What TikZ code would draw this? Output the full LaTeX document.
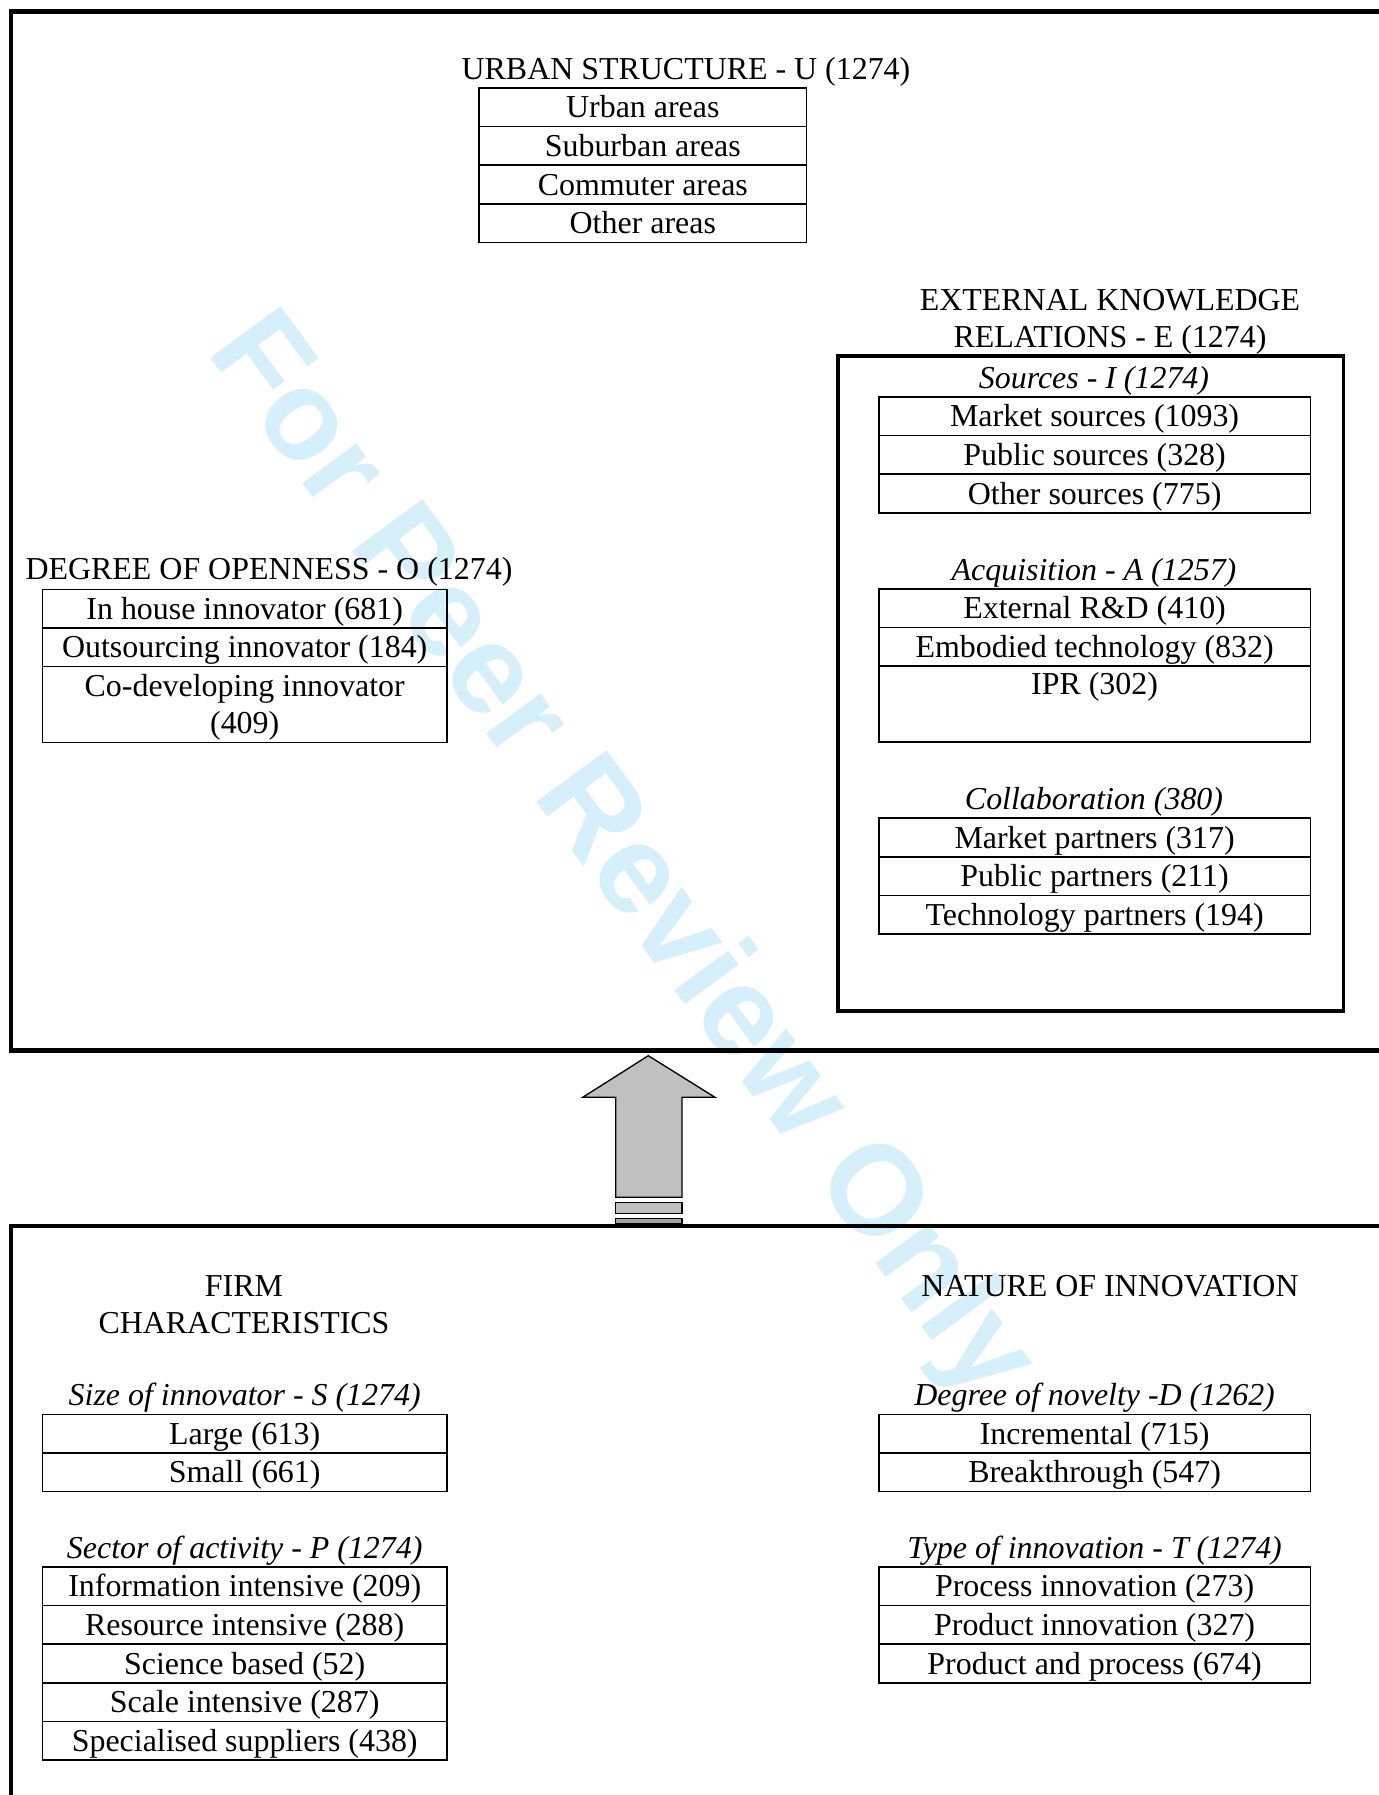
\documentclass[12pt,tikz,border=0pt]{standalone}
\usepackage{fontspec}
\setmainfont{Liberation Serif}
\newfontfamily\markfont{Liberation Sans}
\usetikzlibrary{positioning}
\definecolor{markblue}{RGB}{214,240,251}
\definecolor{arrowgray}{RGB}{192,192,192}
\newcommand*{\txt}{\fontsize{12}{13.8}\selectfont}
\newcommand{\low}[1]{\raisebox{-1.1pt}[\height][\depth]{#1}}
\newcommand*{\rowh}{14.5pt}
\newcommand*{\tallh}{28.6pt}
\tikzset{
        cell/.style={draw, line width=0.6pt, inner sep=0pt, outer sep=0pt, minimum height=\rowh,
                align=center, font=\txt, text height=9.5pt, text depth=1.5pt},
        tall/.style={minimum height=\tallh, text height={}, text depth={}},
        cellU/.style={cell, minimum width=123.1pt},
        cellL/.style={cell, minimum width=151.9pt},
        cellR/.style={cell, minimum width=162.3pt},
        heading/.style={align=center, inner sep=0pt, font=\txt},
        sub/.style={heading, font=\txt\itshape},
        outerbox/.style={line width=1.6pt},
        ebox/.style={line width=1.35pt},
        arrowpart/.style={draw, line width=0.5pt, fill=arrowgray, line join=miter},
}

\begin{document}
\begin{tikzpicture}[x=0.3759pt, y=-0.3759pt]
        \useasboundingbox (0,0) rectangle (1378,1795);
        \node[rotate=-53.7, text=markblue, font=\markfont\bfseries\fontsize{47.8}{47.8}\selectfont] (WM) at (619,858.5) {For Peer Review Only};

        \draw[outerbox] (11,11.5) rectangle (1400,1050.5);
        \draw[outerbox] (11,1226) rectangle (1400,1820);
        \draw[ebox] (838,356) rectangle (1343.5,1011);

        % upward arrow between the two panels
        \draw[arrowpart] (648.3,1055.7) -- (715,1097.3) -- (682,1097.3) -- (682,1197.3)
                -- (615.7,1197.3) -- (615.7,1097.3) -- (582.7,1097.3) -- cycle;
        \draw[arrowpart] (615.7,1202.7) rectangle (682,1213.3);
        \draw[arrowpart, fill=gray!70] (615.7,1218.7) rectangle (682,1224);

        \node[heading] (UT) at (686,72) {URBAN STRUCTURE - U (1274)};
        \node[cellU, anchor=north] (U1) at (642.8,88) {Urban areas};
        \node[cellU, below=0pt of U1] (U2) {Suburban areas};
        \node[cellU, below=0pt of U2] (U3) {Commuter areas};
        \node[cellU, below=0pt of U3] (U4) {Other areas};

        \node[heading] (ET) at (1110,322) {EXTERNAL KNOWLEDGE\\RELATIONS - E (1274)};
        \node[sub] (IT) at (1094,381) {Sources - I (1274)};
        \node[cellR, anchor=north] (I1) at (1094.6,397) {Market sources (1093)};
        \node[cellR, below=0pt of I1] (I2) {Public sources (328)};
        \node[cellR, below=0pt of I2] (I3) {Other sources (775)};

        \node[sub] (AT) at (1094,573) {Acquisition - A (1257)};
        \node[cellR, anchor=north] (A1) at (1094.6,589) {External R\&D (410)};
        \node[cellR, below=0pt of A1] (A2) {Embodied technology (832)};
        \node[cellR, tall, below=0pt of A2] (A3) {\low{IPR (302)}\\\strut};

        \node[sub] (CT) at (1094,802) {Collaboration (380)};
        \node[cellR, anchor=north] (C1) at (1094.6,818.2) {Market partners (317)};
        \node[cellR, below=0pt of C1] (C2) {Public partners (211)};
        \node[cellR, below=0pt of C2] (C3) {Technology partners (194)};

        \node[heading] (OT) at (269,572) {DEGREE OF OPENNESS - O (1274)};
        \node[cellL, anchor=north] (O1) at (244.7,589.3) {In house innovator (681)};
        \node[cellL, below=0pt of O1] (O2) {Outsourcing innovator (184)};
        \node[cellL, tall, below=0pt of O2] (O3) {\low{Co-developing innovator}\\\low{(409)}};

        \node[heading] (FT) at (244,1305) {FIRM\\CHARACTERISTICS};
        \node[heading] (NT) at (1110,1286) {NATURE OF INNOVATION};

        \node[sub] (ST) at (244.7,1397.5) {Size of innovator - S (1274)};
        \node[cellL, anchor=north] (S1) at (244.7,1414.3) {Large (613)};
        \node[cellL, below=0pt of S1] (S2) {Small (661)};

        \node[sub] (PT) at (244.7,1550.5) {Sector of activity - P (1274)};
        \node[cellL, anchor=north] (P1) at (244.7,1567) {Information intensive (209)};
        \node[cellL, below=0pt of P1] (P2) {Resource intensive (288)};
        \node[cellL, below=0pt of P2] (P3) {Science based (52)};
        \node[cellL, below=0pt of P3] (P4) {Scale intensive (287)};
        \node[cellL, below=0pt of P4] (P5) {Specialised suppliers (438)};

        \node[sub] (DT) at (1094.6,1397.5) {Degree of novelty -D (1262)};
        \node[cellR, anchor=north] (D1) at (1094.6,1414.3) {Incremental (715)};
        \node[cellR, below=0pt of D1] (D2) {Breakthrough (547)};

        \node[sub] (TT) at (1094.6,1550.5) {Type of innovation - T (1274)};
        \node[cellR, anchor=north] (T1) at (1094.6,1567) {Process innovation (273)};
        \node[cellR, below=0pt of T1] (T2) {Product innovation (327)};
        \node[cellR, below=0pt of T2] (T3) {Product and process (674)};
\end{tikzpicture}
\end{document}
